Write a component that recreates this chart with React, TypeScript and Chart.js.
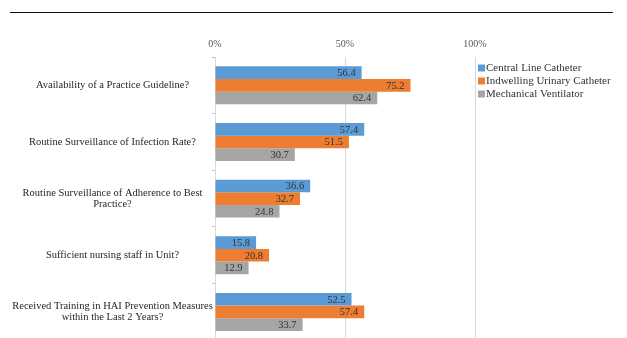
import React, { useEffect, useRef } from "react";
import { Chart, registerables } from "chart.js";

Chart.register(...registerables);

const categories: string[][] = [
  ["Availability of a Practice Guideline?"],
  ["Routine Surveillance of Infection Rate?"],
  ["Routine Surveillance of Adherence to Best", "Practice?"],
  ["Sufficient nursing staff in Unit?"],
  ["Received Training in HAI Prevention Measures", "within the Last 2 Years?"],
];
const seriesNames = ["Central Line Catheter", "Indwelling Urinary Catheter", "Mechanical Ventilator"];
const centralLine = [56.4, 57.4, 36.6, 15.8, 52.5];
const urinaryCatheter = [75.2, 51.5, 32.7, 20.8, 57.4];
const ventilator = [62.4, 30.7, 24.8, 12.9, 33.7];
const xTickValues = [0, 50, 100];

const colors = ["#5b9bd5", "#ed7d31", "#a5a5a5"];
const FONT = "'Liberation Serif', serif";
const LABEL_SIZE = 10.5;
const AXIS_RIGHT = 215;
const LABEL_CENTER = 112.5;
const Y_TICK_LEN = 3;

function widestLabel(): number {
  const c = document.createElement("canvas").getContext("2d")!;
  c.font = `${LABEL_SIZE}px ${FONT}`;
  let w = 0;
  categories.forEach((lines) => lines.forEach((l) => (w = Math.max(w, c.measureText(l).width))));
  return w;
}

const valueLabels = {
  id: "valueLabels",
  afterDatasetsDraw(chart: any) {
    const ctx = chart.ctx;
    ctx.save();
    ctx.font = `10.5px ${FONT}`;
    ctx.fillStyle = "#333333";
    ctx.textAlign = "right";
    ctx.textBaseline = "middle";
    chart.data.datasets.forEach((ds: any, i: number) => {
      const meta = chart.getDatasetMeta(i);
      meta.data.forEach((bar: any, j: number) => {
        ctx.fillText(ds.data[j].toFixed(1), bar.x - 6, bar.y + 0.5);
      });
    });
    ctx.restore();
  },
};

const sideLegend = {
  id: "sideLegend",
  afterDraw(chart: any) {
    const ctx = chart.ctx;
    ctx.save();
    ctx.font = `11px ${FONT}`;
    ctx.textBaseline = "middle";
    ctx.textAlign = "left";
    const x0 = chart.chartArea.right + 3;
    chart.data.datasets.forEach((ds: any, i: number) => {
      const y = 68 + i * 13;
      ctx.fillStyle = ds.backgroundColor;
      ctx.fillRect(x0, y - 3.5, 7, 7);
      ctx.fillStyle = "#333333";
      ctx.fillText(ds.label, x0 + 8, y);
    });
    ctx.restore();
  },
};

export default function App() {
  const ref = useRef<HTMLCanvasElement>(null);
  useEffect(() => {
    if (!ref.current) return;
    const widest = widestLabel();
    const pad = AXIS_RIGHT - Y_TICK_LEN - widest / 2 - LABEL_CENTER;
    const chart = new Chart(ref.current, {
      type: "bar",
      data: {
        labels: categories,
        datasets: [centralLine, urinaryCatheter, ventilator].map((d, i) => ({
          label: seriesNames[i],
          data: d,
          backgroundColor: colors[i],
          borderWidth: 0,
          barPercentage: 1,
          categoryPercentage: 0.67,
        })),
      },
      options: {
        indexAxis: "y",
        animation: false,
        responsive: false,
        layout: { padding: { left: 0, right: 152, top: 0, bottom: 0 } },
        plugins: { legend: { display: false }, tooltip: { enabled: false } },
        scales: {
          x: {
            type: "linear",
            position: "top",
            min: 0,
            max: 100,
            afterBuildTicks: (s: any) => {
              s.ticks = xTickValues.map((v) => ({ value: v }));
            },
            ticks: {
              callback: (v: any) => `${v}%`,
              font: { family: FONT, size: 10 },
              color: "#595959",
              padding: 7,
            },
            grid: { color: "#d9d9d9", drawTicks: false },
            border: { display: false },
            afterFit: (s: any) => {
              s.height = 57;
            },
          },
          y: {
            type: "category",
            offset: true,
            grid: {
              offset: true,
              drawOnChartArea: false,
              drawTicks: true,
              tickLength: Y_TICK_LEN,
              color: "#bfbfbf",
            },
            border: { display: true, color: "#d9d9d9" },
            ticks: {
              crossAlign: "center",
              padding: pad,
              font: { family: FONT, size: LABEL_SIZE, lineHeight: 1.05 },
              color: "#262626",
            },
            afterFit: (s: any) => {
              s.width = AXIS_RIGHT;
            },
          },
        },
      },
      plugins: [valueLabels, sideLegend],
    } as any);
    return () => chart.destroy();
  }, []);
  return (
    <div style={{ position: "absolute", left: 0, top: 0, width: 627, height: 338, overflow: "hidden", background: "#fff" }}>
      <div style={{ position: "absolute", left: 10, top: 12, width: 603, height: 0, borderTop: "1px solid #111" }} />
      <canvas ref={ref} width={627} height={345} style={{ position: "absolute", left: 0, top: 0 }} />
    </div>
  );
}
